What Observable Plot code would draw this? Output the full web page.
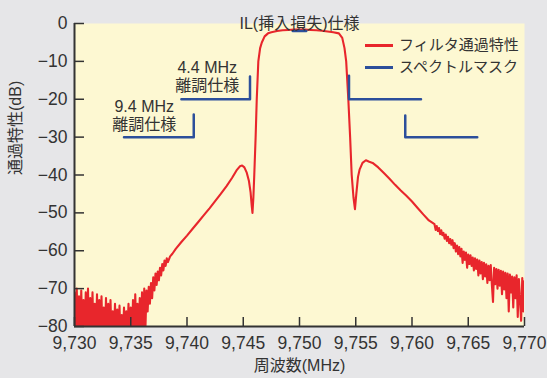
<!DOCTYPE html>
<html><head><meta charset="utf-8">
<script src="https://cdn.jsdelivr.net/npm/d3@7"></script>
<script src="https://cdn.jsdelivr.net/npm/@observablehq/plot@0.6"></script>
<style>
body{margin:0;background:#e6e6e8;}
#wrap{position:relative;width:547px;height:378px;font-family:"Liberation Sans","Noto Sans CJK JP",sans-serif;color:#333;}
.leg{position:absolute;left:365px;font-size:15px;line-height:20px;display:flex;align-items:center;white-space:nowrap;}
.leg .sw{display:inline-block;width:28px;height:3px;margin-right:6px;}
</style></head><body><div id="wrap"></div>
<script>
// ---- filter response (MHz, dB) ----
const leftFloorMHz = [9730.0,9730.1,9730.2,9730.3,9730.4,9730.5,9730.6,9730.7,9730.8,9730.9,
  9731.0,9731.1,9731.2,9731.3,9731.4,9731.5,9731.6,9731.7,9731.8,9731.9,
  9732.0,9732.1,9732.2,9732.3,9732.4,9732.5,9732.6,9732.7,9732.8,9732.9,
  9733.0,9733.1,9733.2,9733.3,9733.4,9733.5,9733.6,9733.7,9733.8,9733.9,
  9734.0,9734.1,9734.2,9734.3,9734.4,9734.5,9734.6,9734.7,9734.8,9734.9,
  9735.0,9735.1,9735.2,9735.3,9735.4,9735.5,9735.6,9735.7,9735.8,9735.9,
  9736.0,9736.1,9736.2,9736.3];
const leftFloorDB = [-71,-84,-70,-83,-72,-85,-70.5,-82,-73,-84,
  -71,-83,-70,-85,-72.5,-82,-71,-84,-74,-83,
  -71.5,-85,-73,-82,-72,-84,-75,-83,-72.5,-85,
  -74,-82,-73,-84,-76,-83,-74,-85,-75.5,-82,
  -74.5,-84,-77,-83,-75,-85,-76,-82,-74,-84,
  -75,-83,-73,-85,-71.5,-82,-74,-84,-72.5,-83,
  -71,-82,-70,-81];
const leftSkirtMHz = [9736.4,9736.5,9736.6,9736.7,9736.8,9736.9,9737.0,9737.1,9737.2,9737.3,
  9737.4,9737.5,9737.6,9737.7,9737.8,9737.9,9738.0,9738.1,9738.2,9738.3,
  9738.5,9738.7,9739.0,9739.5,9740.0,9740.5,9741.0,9741.5,9742.0,9742.5,
  9743.0,9743.5,9744.0,9744.4,9744.7,9744.9];
const leftSkirtDB = [-70.5,-76,-69.5,-74,-68.5,-72.5,-67,-70.5,-66,-69,
  -65.5,-67.8,-64.5,-66.5,-63.5,-65.2,-62.6,-64.0,-62.0,-63.0,
  -61.5,-60.8,-59.5,-57.7,-56.0,-54.2,-52.4,-50.6,-48.8,-46.9,
  -45.0,-43.0,-40.8,-38.8,-37.7,-37.5];
const passMHz = [9745.1,9745.3,9745.5,9745.65,9745.75,9745.82,9745.9,9745.98,9746.1,9746.2,
  9746.34,9746.5,9746.65,9746.9,9747.2,9747.5,9748.0,9748.5,9749.0,9749.5,
  9750.0,9750.5,9751.0,9751.5,9752.0,9752.5,9753.0,9753.5,9753.8,9754.0,
  9754.15,9754.34,9754.5,9754.64,9754.8,9754.93,9755.05,9755.2,9755.35,9755.6,
  9755.9,9756.2];
const passDB = [-38,-39.3,-41.5,-44.5,-48,-50,-46,-40,-30,-20,
  -10,-6.5,-5,-3.4,-2.6,-2.3,-2.0,-1.8,-1.7,-1.6,
  -1.6,-1.6,-1.7,-1.8,-1.9,-2.1,-2.3,-2.6,-3.8,-6.5,
  -10,-20,-30,-40,-46,-49,-45,-40.5,-38.5,-36.8,
  -36.1,-36.5];
const rightSkirtMHz = [9756.5,9757.0,9757.5,9758.0,9758.5,9759.0,9759.5,9760.0,9760.5,9761.0,9761.5];
const rightSkirtDB = [-36.8,-38.0,-39.5,-41.0,-42.6,-44.1,-45.5,-47.0,-48.7,-50.4,-52.0];
const rightFloorMHz = [9762.0,9762.1,9762.2,9762.3,9762.4,9762.5,9762.6,9762.7,9762.8,9762.9,
  9763.0,9763.1,9763.2,9763.3,9763.4,9763.5,9763.6,9763.7,9763.8,9763.9,
  9764.0,9764.1,9764.2,9764.3,9764.4,9764.5,9764.6,9764.7,9764.8,9764.9,
  9765.0,9765.1,9765.2,9765.3,9765.4,9765.5,9765.6,9765.7,9765.8,9765.9,
  9766.0,9766.1,9766.2,9766.3,9766.4,9766.5,9766.6,9766.7,9766.8,9766.9,
  9767.0,9767.1,9767.2,9767.3,9767.4,9767.5,9767.6,9767.7,9767.8,9767.9,
  9768.0,9768.1,9768.2,9768.3,9768.4,9768.5,9768.6,9768.7,9768.8,9768.9,
  9769.0,9769.1,9769.2,9769.3,9769.4,9769.5,9769.6,9769.7,9769.8,9769.9,
  9770.0];
const rightFloorDB = [-53.0,-54.5,-53.5,-54.8,-54.0,-55.6,-54.6,-55.9,-55.3,-56.8,
  -55.7,-57.4,-56.3,-58.0,-56.9,-58.4,-57.2,-59.3,-58.0,-60.2,
  -58.6,-60.9,-59.0,-61.5,-59.5,-63.2,-60.2,-62.4,-60.5,-64.5,
  -61.0,-63.5,-61.2,-64.0,-61.8,-65.2,-62.0,-64.8,-62.3,-66.5,
  -62.6,-66.0,-63.0,-67.5,-63.2,-66.8,-63.6,-68.5,-64.0,-67.8,
  -63.8,-69.0,-73.5,-64.5,-68.8,-64.8,-70.0,-65.0,-69.2,-65.3,
  -71.5,-65.5,-70.2,-65.8,-72.5,-66.0,-76.0,-66.3,-71.0,-66.8,
  -75.0,-67.0,-72.5,-66.5,-77.5,-67.5,-73.0,-78.5,-67.2,-76.0,
  -68.0];

// ---- spectral mask segments ----
const maskSeg = ["IL","IL","L44","L44","L44","R44","R44","R44","L94","L94","L94","R94","R94","R94"];
const maskMHz = [9749.4,9750.6, 9739.5,9745.6,9745.6, 9754.4,9754.4,9760.8, 9734.4,9740.6,9740.6, 9759.4,9759.4,9765.8];
const maskDB  = [-2,-2, -20,-20,-14, -13.8,-20,-20, -30,-30,-24, -24.3,-30,-30];

// ---- annotations / ticks ----
const annoText = ["4.4 MHz\n離調仕様", "9.4 MHz\n離調仕様"];
const annoMHz = [9741.8, 9736.2];
const annoDB = [-14, -24.1];
const titleText = "IL(挿入損失)仕様";
const titleMHz = 9750;
const xTicks = [9730,9735,9740,9745,9750,9755,9760,9765,9770];
const yTicks = [0,-10,-20,-30,-40,-50,-60,-70,-80];
const xLabel = "周波数(MHz)";
const yLabel = "通過特性(dB)";
const legendLabels = ["フィルタ通過特性", "スペクトルマスク"];

const RED = "#e8262c", BLUE = "#2c4f9b", INK = "#333";
const FONT = '"Liberation Sans","Noto Sans CJK JP",sans-serif';

const fMHz = [...leftFloorMHz, ...leftSkirtMHz, ...passMHz, ...rightSkirtMHz, ...rightFloorMHz];
const fDB = [...leftFloorDB, ...leftSkirtDB, ...passDB, ...rightSkirtDB, ...rightFloorDB];
const filterRows = fMHz.map((f, i) => ({f, db: fDB[i]}));
const maskRows = maskMHz.map((f, i) => ({f, db: maskDB[i], seg: maskSeg[i]}));
const annoRows = annoText.map((t, i) => ({t, f: annoMHz[i], db: annoDB[i]}));

const chart = Plot.plot({
  width: 547, height: 378,
  marginLeft: 74, marginRight: 23, marginTop: 23, marginBottom: 52,
  style: {background: "transparent", fontFamily: FONT, fontSize: "17px", color: INK, overflow: "visible"},
  x: {domain: [9730, 9770]},
  y: {domain: [-80, 0]},
  marks: [
    Plot.frame({fill: "#fdf8d2", stroke: "none"}),
    Plot.line(filterRows, {x: "f", y: "db", stroke: RED, strokeWidth: 2.1, clip: true}),
    Plot.line(maskRows, {x: "f", y: "db", z: "seg", stroke: BLUE, strokeWidth: 2.5}),
    Plot.text(annoRows, {x: "f", y: "db", text: "t", fontSize: 16, lineHeight: 1.13, fill: INK}),
    Plot.text([titleText], {x: [titleMHz], frameAnchor: "top", dy: -5.5, text: d => d, fontSize: 16, fill: INK}),
    Plot.ruleX([9730], {stroke: INK, strokeWidth: 2}),
    Plot.ruleY([-80], {stroke: INK, strokeWidth: 2}),
    Plot.axisX({ticks: xTicks, tickSize: -9, tickPadding: 19, tickFormat: d3.format(","), label: null, strokeWidth: 1.5, fill: INK, fontSize: 17.5}),
    Plot.axisY({ticks: yTicks, tickSize: -10, tickPadding: 17, tickFormat: d => d === 0 ? "0" : "\u2212" + Math.abs(d), label: null, strokeWidth: 1.5, fill: INK, fontSize: 17.5}),
    Plot.text([xLabel], {frameAnchor: "bottom", dy: 44, text: d => d, fontSize: 16, fill: INK}),
    Plot.text([yLabel], {frameAnchor: "left", dx: -58.5, rotate: -90, text: d => d, fontSize: 16, fill: INK})
  ]
});
const wrap = document.getElementById("wrap");
wrap.appendChild(chart);

const legColors = [RED, BLUE];
const legY = [35, 57];
legendLabels.forEach((lab, i) => {
  const d = document.createElement("div");
  d.className = "leg";
  d.style.top = legY[i] + "px";
  const sw = document.createElement("span");
  sw.className = "sw";
  sw.style.background = legColors[i];
  d.appendChild(sw);
  d.appendChild(document.createTextNode(lab));
  wrap.appendChild(d);
});
</script></body></html>
